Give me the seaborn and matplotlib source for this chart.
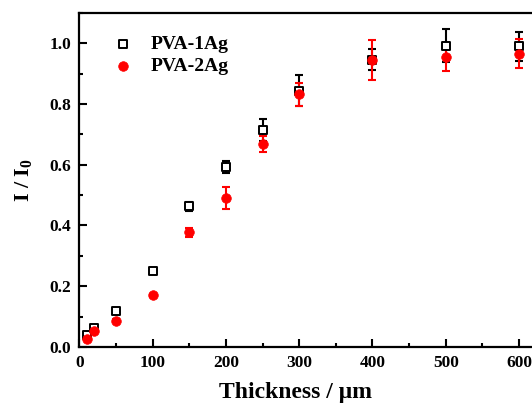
import matplotlib
matplotlib.use("Agg")
import matplotlib.pyplot as plt
from matplotlib.ticker import MultipleLocator, FormatStrFormatter
import pandas as pd
import seaborn as sns

# Film thickness (um) and normalised transmitted intensity I/I0
thickness = [10, 20, 50, 100, 150, 200, 250, 300, 400, 500, 600]
pva1_mean = [0.040, 0.062, 0.120, 0.250, 0.463, 0.592, 0.715, 0.844, 0.946, 0.991, 0.990]
pva1_err = [0.004, 0.005, 0.005, 0.006, 0.015, 0.019, 0.036, 0.050, 0.035, 0.054, 0.048]
pva2_mean = [0.028, 0.052, 0.087, 0.170, 0.377, 0.491, 0.669, 0.831, 0.945, 0.954, 0.965]
pva2_err = [0.004, 0.006, 0.005, 0.006, 0.015, 0.037, 0.027, 0.039, 0.066, 0.046, 0.047]
series_names = ["PVA-1Ag", "PVA-2Ag"]

sns.set_style("ticks", {"axes.edgecolor": "black", "xtick.color": "black",
                        "ytick.color": "black", "text.color": "black",
                        "axes.labelcolor": "black"})
plt.rcParams["font.family"] = ["Liberation Serif", "DejaVu Serif"]
plt.rcParams["font.weight"] = "bold"
plt.rcParams["mathtext.fontset"] = "custom"
plt.rcParams["mathtext.rm"] = "Liberation Serif:bold"
plt.rcParams["mathtext.bf"] = "Liberation Serif:bold"
plt.rcParams["mathtext.it"] = "Liberation Serif:bold"

df = pd.DataFrame({
    "thickness": thickness * 2,
    "ratio": pva1_mean + pva2_mean,
    "err": pva1_err + pva2_err,
    "sample": [series_names[0]] * len(thickness) + [series_names[1]] * len(thickness),
})

fig = plt.figure(figsize=(5.32, 4.04), dpi=100)
# axes run past the right edge of the canvas
ax = fig.add_axes([0.1494, 0.141, 0.895, 0.8275])

colors = {"PVA-1Ag": "black", "PVA-2Ag": "#ff0000"}

for name in series_names:
    sub = df[df["sample"] == name]
    ax.errorbar(sub["thickness"], sub["ratio"], yerr=sub["err"], fmt="none",
                ecolor=colors[name], elinewidth=1.5, capsize=2.8, capthick=1.5,
                zorder=3 if name == "PVA-1Ag" else 4)

sns.scatterplot(data=df[df["sample"] == "PVA-1Ag"], x="thickness", y="ratio",
                marker="s", s=28, facecolor="white", edgecolor="black",
                linewidth=1.4, label="PVA-1Ag", ax=ax, zorder=5)
sns.scatterplot(data=df[df["sample"] == "PVA-2Ag"], x="thickness", y="ratio",
                marker="o", s=48, color="#ff0000", edgecolor="#ff0000",
                linewidth=0.5, label="PVA-2Ag", ax=ax, zorder=6)

ax.set_xlim(0, 650)
ax.set_ylim(0, 1.1)
ax.xaxis.set_major_locator(MultipleLocator(100))
ax.xaxis.set_minor_locator(MultipleLocator(50))
ax.yaxis.set_major_locator(MultipleLocator(0.2))
ax.yaxis.set_minor_locator(MultipleLocator(0.1))
ax.yaxis.set_major_formatter(FormatStrFormatter("%.1f"))

ax.tick_params(which="both", direction="in", top=False, right=False,
               width=1.5, labelsize=12.5, pad=6, colors="black")
ax.tick_params(which="major", length=6)
ax.tick_params(which="minor", length=3)
for lab in ax.get_xticklabels() + ax.get_yticklabels():
    lab.set_fontweight("bold")
for sp in ax.spines.values():
    sp.set_linewidth(1.6)
    sp.set_color("black")
    sp.set_visible(True)

ax.set_xlabel("Thickness / μm", fontsize=17, fontweight="bold")
ax.xaxis.set_label_coords(0.453, -0.105)
ax.set_ylabel(r"I / I$_0$", fontsize=16, fontweight="bold")
ax.yaxis.set_label_coords(-0.096, 0.5)

leg = ax.legend(loc="upper left", bbox_to_anchor=(0.035, 0.985), frameon=False,
                prop={"family": "Liberation Serif", "weight": "bold", "size": 14},
                handletextpad=0.9, labelspacing=0.25, handlelength=1.0)

fig.savefig("out.png", dpi=100)
